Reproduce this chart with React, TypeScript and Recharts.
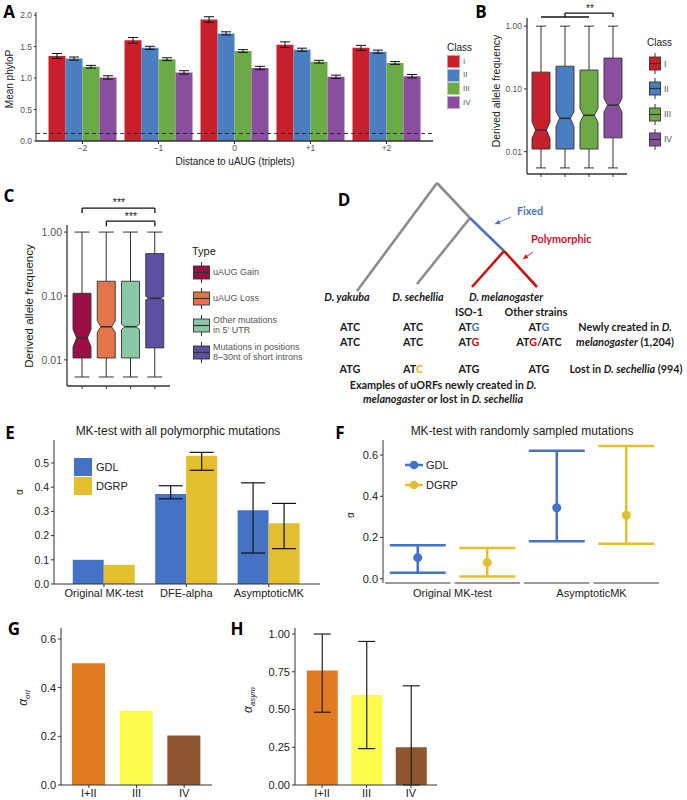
import React from "react"
import {
  Bar,
  BarChart,
  Cell,
  ErrorBar,
  Line,
  LineChart,
  ReferenceLine,
  Scatter,
  ScatterChart,
  XAxis,
  YAxis,
} from "recharts"

const AX = "#333333"
const TXT = "#555555"
const SANS = "'Liberation Sans', Arial, sans-serif"
const CAL = "Lato, 'Open Sans', sans-serif"

// ---------- panel A : mean phyloP around uAUG
const distances = ["\u22122", "\u22121", "0", "+1", "+2"]
const classes = ["I", "II", "III", "IV"]
const classColors = ["#C8202A", "#4B7EC0", "#6BAA47", "#8A4E9F"]
const phyloI = [1.35, 1.6, 1.93, 1.53, 1.48]
const phyloII = [1.31, 1.48, 1.71, 1.45, 1.42]
const phyloIII = [1.18, 1.3, 1.43, 1.26, 1.24]
const phyloIV = [1.01, 1.09, 1.16, 1.02, 1.03]
const seI = [0.04, 0.045, 0.045, 0.045, 0.04]
const seII = [0.025, 0.025, 0.025, 0.025, 0.025]
const seIII = [0.022, 0.022, 0.022, 0.022, 0.022]
const seIV = [0.027, 0.027, 0.027, 0.027, 0.027]
const neutralPhyloP = 0.12

// ---------- panel B : DAF by class
const bLo = [0.0055, 0.0055, 0.0055, 0.0055]
const bQ1 = [0.011, 0.011, 0.011, 0.0166]
const bMed = [0.022, 0.034, 0.038, 0.055]
const bQ3 = [0.185, 0.23, 0.2, 0.31]
const bHi = [1, 1, 1, 1]
const bNotchLo = [0.0163, 0.025, 0.029, 0.043]
const bNotchHi = [0.0297, 0.044, 0.049, 0.071]

// ---------- panel C : DAF by mutation type
const types = [
  "uAUG Gain",
  "uAUG Loss",
  "Other mutations in 5' UTR",
  "Mutations in positions 8\u201330nt of short introns",
]
const typeColors = ["#9A0F45", "#E3744C", "#8AC8A5", "#5E4FA2"]
const cLo = [0.0054, 0.0054, 0.0054, 0.0054]
const cQ1 = [0.0107, 0.0107, 0.0107, 0.0154]
const cMed = [0.022, 0.033, 0.033, 0.092]
const cQ3 = [0.11, 0.17, 0.17, 0.46]
const cHi = [1, 1, 1, 1]
const cNotchLo = [0.016, 0.027, 0.03, 0.087]
const cNotchHi = [0.03, 0.041, 0.036, 0.098]

// ---------- panel D : tree
const treeNodes: Record<string, { x: number; y: number }> = {
  root: { x: 97, y: 8 },
  yak: { x: 17, y: 116 },
  anc: { x: 130, y: 43 },
  sech: { x: 77, y: 109 },
  mel: { x: 164, y: 76 },
  iso: { x: 132, y: 112 },
  oth: { x: 197, y: 112 },
  fixFrom: { x: 171, y: 42 },
  fixTo: { x: 155, y: 49 },
  polyFrom: { x: 193, y: 77 },
  polyTo: { x: 183, y: 84 },
}
const treeEdges: [string, string, string][] = [
  ["root", "yak", "#8C8C8C"],
  ["root", "anc", "#8C8C8C"],
  ["anc", "sech", "#8C8C8C"],
  ["anc", "mel", "#4E74BE"],
  ["mel", "iso", "#C81414"],
  ["mel", "oth", "#C81414"],
]

// ---------- panel E : MK tests, all polymorphisms
const mkTests = ["Original MK-test", "DFE-alpha", "AsymptoticMK"]
const eGDL = [0.1, 0.372, 0.305]
const eGDLlo = [null, 0.352, 0.128]
const eGDLhi = [null, 0.406, 0.418]
const eDGRP = [0.079, 0.53, 0.251]
const eDGRPlo = [null, 0.47, 0.146]
const eDGRPhi = [null, 0.544, 0.333]
const GDL_C = "#4472C4"
const DGRP_C = "#E3BE2E"

// ---------- panel F : MK tests, random samples
const fTests = ["Original MK-test", "AsymptoticMK"]
const fGDL = [0.102, 0.344]
const fGDLlo = [0.029, 0.182]
const fGDLhi = [0.162, 0.621]
const fDGRP = [0.078, 0.308]
const fDGRPlo = [0.011, 0.169]
const fDGRPhi = [0.149, 0.644]

// ---------- panels G, H
const groups = ["I+II", "III", "IV"]
const groupColors = ["#E07B21", "#FCFC4C", "#8E5530"]
const alphaOri = [0.5, 0.305, 0.203]
const alphaAsym = [0.758, 0.597, 0.25]
const asymLo = [0.482, 0.241, 0]
const asymHi = [1.0, 0.951, 0.657]

type TP = {
  x: number
  y: number
  children: React.ReactNode
  size?: number
  color?: string
  bold?: boolean
  italic?: boolean
  align?: "start" | "middle" | "end"
  rotate?: boolean
  family?: string
}
function T({ x, y, children, size = 10, color = "#1a1a1a", bold, italic, align = "middle", rotate, family = SANS }: TP) {
  const tx = align === "start" ? "0" : align === "end" ? "-100%" : "-50%"
  return (
    <div
      style={{
        position: "absolute",
        left: x,
        top: y,
        transform: `translate(${tx},-50%)${rotate ? " rotate(-90deg)" : ""}`,
        fontSize: size,
        color,
        fontWeight: bold ? 700 : 400,
        fontStyle: italic ? "italic" : "normal",
        fontFamily: family,
        whiteSpace: "nowrap",
        lineHeight: 1.12,
      }}
    >
      {children}
    </div>
  )
}

function Pos({ x, y, children }: { x: number; y: number; children: React.ReactNode }) {
  return <div style={{ position: "absolute", left: x, top: y }}>{children}</div>
}

const Letter = ({ x, y, c }: { x: number; y: number; c: string }) => (
  <T x={x} y={y} size={17} bold family="'Open Sans', sans-serif" color="#000">
    {c}
  </T>
)

// notched box drawn from the range bar [lo, hi] on a log axis
function boxShape(capW: number) {
  return (props: any) => {
    const { x, y, width, height, payload, fill } = props
    const top = Math.min(y, y + height)
    const bot = Math.max(y, y + height)
    const l0 = Math.log10(payload.lo)
    const l1 = Math.log10(payload.hi)
    const py = (v: number) => bot - ((Math.log10(v) - l0) / (l1 - l0)) * (bot - top)
    const cx = x + width / 2
    const x0 = x
    const x1 = x + width
    const ins = width * 0.2
    const yq1 = py(payload.q1)
    const yq3 = py(payload.q3)
    const ym = py(payload.med)
    const ynl = py(payload.nlo)
    const ynh = py(payload.nhi)
    const pts = [
      [x0, yq3], [x1, yq3], [x1, ynh], [x1 - ins, ym], [x1, ynl],
      [x1, yq1], [x0, yq1], [x0, ynl], [x0 + ins, ym], [x0, ynh],
    ]
    return (
      <g>
        <line x1={cx} x2={cx} y1={top} y2={yq3} stroke={AX} strokeWidth={1} />
        <line x1={cx} x2={cx} y1={yq1} y2={bot} stroke={AX} strokeWidth={1} />
        <line x1={cx - capW / 2} x2={cx + capW / 2} y1={top} y2={top} stroke={AX} strokeWidth={1} />
        <line x1={cx - capW / 2} x2={cx + capW / 2} y1={bot} y2={bot} stroke={AX} strokeWidth={1} />
        <polygon points={pts.map((p) => p.join(",")).join(" ")} fill={fill} stroke={AX} strokeWidth={0.9} />
        <line x1={x0 + ins} x2={x1 - ins} y1={ym} y2={ym} stroke={AX} strokeWidth={1.6} />
      </g>
    )
  }
}

function BoxKey({ color, w, h }: { color: string; w: number; h: number }) {
  return (
    <svg width={w} height={h + 8} style={{ display: "block" }}>
      <line x1={w / 2} x2={w / 2} y1={0} y2={h + 8} stroke={AX} />
      <rect x={0.5} y={4} width={w - 1} height={h} fill={color} stroke={AX} strokeWidth={0.9} />
      <line x1={0.5} x2={w - 0.5} y1={4 + h / 2} y2={4 + h / 2} stroke={AX} strokeWidth={1.2} />
    </svg>
  )
}

function PanelA() {
  const rows = distances.map((d, i) => ({
    d,
    I: phyloI[i],
    II: phyloII[i],
    III: phyloIII[i],
    IV: phyloIV[i],
    eI: seI[i],
    eII: seII[i],
    eIII: seIII[i],
    eIV: seIV[i],
  }))
  return (
    <>
      <Pos x={0} y={0}>
        <BarChart
          width={436}
          height={157}
          data={rows}
          margin={{ top: 12, right: 3, bottom: 0, left: 0 }}
          barGap={0}
          barSize={17}
        >
          <XAxis
            dataKey="d"
            padding={{ left: 8.5, right: 8.5 }}
            height={16}
            tickSize={3}
            tickMargin={1}
            axisLine={{ stroke: AX, strokeWidth: 1.6 }}
            tickLine={{ stroke: AX }}
            tick={{ fontSize: 8.5, fill: TXT, fontFamily: SANS }}
          />
          <YAxis
            domain={[0, 2.05]}
            ticks={[0, 0.5, 1, 1.5, 2]}
            tickFormatter={(v: number) => v.toFixed(1)}
            width={36}
            tickSize={2}
            tickMargin={2}
            axisLine={{ stroke: AX }}
            tickLine={{ stroke: AX }}
            tick={{ fontSize: 8.5, fill: TXT, fontFamily: SANS }}
          />
          {classes.map((c, k) => (
            <Bar key={c} dataKey={c} fill={classColors[k]} isAnimationActive={false}>
              <ErrorBar dataKey={"e" + c} width={5} stroke="#111" strokeWidth={1} />
            </Bar>
          ))}
          <ReferenceLine y={neutralPhyloP} stroke="#222" strokeDasharray="4 3" strokeWidth={0.9} />
        </BarChart>
      </Pos>
      <T x={235} y={162} size={10}>Distance to uAUG (triplets)</T>
      <T x={10} y={79} size={10} rotate>Mean phyloP</T>
      <T x={447} y={48} size={10} align="start">Class</T>
      {classes.map((c, k) => (
        <React.Fragment key={c}>
          <div
            style={{
              position: "absolute",
              left: 447,
              top: 55 + k * 13.7,
              width: 13,
              height: 13,
              background: classColors[k],
              boxShadow: "inset 0 0 0 1px rgba(255,255,255,0.5)",
            }}
          />
          <T x={463} y={61.5 + k * 13.7} size={8} color={TXT} align="start">{c}</T>
        </React.Fragment>
      ))}
      <Letter x={9} y={12} c="A" />
    </>
  )
}

function PanelB() {
  const rows = classes.map((c, i) => ({
    cls: c,
    lo: bLo[i],
    q1: bQ1[i],
    med: bMed[i],
    q3: bQ3[i],
    hi: bHi[i],
    nlo: bNotchLo[i],
    nhi: bNotchHi[i],
  }))
  const lowBr = 1.4
  const upBr = 1.62
  return (
    <>
      <Pos x={495} y={0}>
        <BarChart width={135} height={182} data={rows} margin={{ top: 18, right: 3, bottom: 0, left: 0 }} barSize={18}>
          <XAxis
            dataKey="cls"
            padding={{ left: 2, right: 2 }}
            height={8}
            tickSize={3}
            tickFormatter={() => ""}
            axisLine={{ stroke: AX, strokeWidth: 1.3 }}
            tickLine={{ stroke: AX }}
          />
          <YAxis
            scale="log"
            type="number"
            domain={[0.0044, 1.35]}
            allowDataOverflow
            ticks={[0.01, 0.1, 1]}
            tickFormatter={(v: number) => v.toFixed(2)}
            width={32}
            tickSize={3}
            tickMargin={2}
            axisLine={{ stroke: AX, strokeWidth: 1.3 }}
            tickLine={{ stroke: AX }}
            tick={{ fontSize: 8.5, fill: TXT, fontFamily: SANS }}
          />
          <Bar dataKey={(d: any) => [d.lo, d.hi]} shape={boxShape(10)} isAnimationActive={false}>
            {rows.map((r, i) => (
              <Cell key={r.cls} fill={classColors[i]} />
            ))}
          </Bar>
          <ReferenceLine ifOverflow="visible" stroke="#111" strokeWidth={1.3} segment={[{ x: "I", y: lowBr }, { x: "III", y: lowBr }]} />
          <ReferenceLine ifOverflow="visible" stroke="#111" strokeWidth={1.3} segment={[{ x: "II", y: lowBr }, { x: "II", y: upBr }]} />
          <ReferenceLine ifOverflow="visible" stroke="#111" strokeWidth={1.3} segment={[{ x: "II", y: upBr }, { x: "IV", y: upBr }]} />
          <ReferenceLine ifOverflow="visible" stroke="#111" strokeWidth={1.3} segment={[{ x: "IV", y: upBr }, { x: "IV", y: lowBr }]} />
        </BarChart>
      </Pos>
      <T x={590} y={9} size={10} color="#222">**</T>
      <T x={497} y={91} size={10.5} rotate>Derived allele frequency</T>
      <T x={647} y={43} size={10} align="start">Class</T>
      {classes.map((c, k) => (
        <React.Fragment key={c}>
          <Pos x={649} y={53 + k * 25.3}>
            <BoxKey color={classColors[k]} w={12} h={13} />
          </Pos>
          <T x={664} y={64.5 + k * 25.3} size={8.5} color={TXT} align="start">{c}</T>
        </React.Fragment>
      ))}
      <Letter x={481} y={12} c="B" />
    </>
  )
}

function PanelC() {
  const rows = types.map((t, i) => ({
    type: t,
    lo: cLo[i],
    q1: cQ1[i],
    med: cMed[i],
    q3: cQ3[i],
    hi: cHi[i],
    nlo: cNotchLo[i],
    nhi: cNotchHi[i],
  }))
  const seg = (a: number, ya: number, b: number, yb: number) => [
    { x: types[a], y: ya },
    { x: types[b], y: yb },
  ]
  const br = { stroke: "#111", strokeWidth: 1.3, ifOverflow: "visible" as const }
  const legendLabels: React.ReactNode[] = [
    "uAUG Gain",
    "uAUG Loss",
    <>Other mutations<br />in 5' UTR</>,
    <>Mutations in positions<br />8{"\u2013"}30nt of short introns</>,
  ]
  return (
    <>
      <Pos x={20} y={195}>
        <BarChart width={150} height={199} data={rows} margin={{ top: 30, right: 0, bottom: 0, left: 0 }} barSize={18}>
          <XAxis
            dataKey="type"
            padding={{ left: 3, right: 3 }}
            height={8}
            tickSize={3}
            tickFormatter={() => ""}
            axisLine={{ stroke: AX, strokeWidth: 1.3 }}
            tickLine={{ stroke: AX }}
          />
          <YAxis
            scale="log"
            type="number"
            domain={[0.0039, 1.29]}
            allowDataOverflow
            ticks={[0.01, 0.1, 1]}
            tickFormatter={(v: number) => v.toFixed(2)}
            width={47}
            tickSize={3}
            tickMargin={2}
            axisLine={{ stroke: AX, strokeWidth: 1.3 }}
            tickLine={{ stroke: AX }}
            tick={{ fontSize: 10.5, fill: TXT, fontFamily: SANS }}
          />
          <Bar dataKey={(d: any) => [d.lo, d.hi]} shape={boxShape(15)} isAnimationActive={false}>
            {rows.map((r, i) => (
              <Cell key={r.type} fill={typeColors[i]} />
            ))}
          </Bar>
          <ReferenceLine {...br} segment={seg(0, 1.98, 0, 2.37)} />
          <ReferenceLine {...br} segment={seg(0, 2.37, 3, 2.37)} />
          <ReferenceLine {...br} segment={seg(3, 2.37, 3, 1.98)} />
          <ReferenceLine {...br} segment={seg(1, 1.23, 1, 1.48)} />
          <ReferenceLine {...br} segment={seg(1, 1.48, 3, 1.48)} />
          <ReferenceLine {...br} segment={seg(3, 1.48, 3, 1.23)} />
        </BarChart>
      </Pos>
      <T x={119} y={203} size={10.5} color="#222">***</T>
      <T x={131} y={217} size={10.5} color="#222">***</T>
      <T x={29} y={306} size={11.5} rotate>Derived allele frequency</T>
      <T x={192} y={251} size={11} align="start">Type</T>
      {typeColors.map((col, k) => (
        <React.Fragment key={col}>
          <Pos x={193} y={[262, 288, 315, 342][k]}>
            <BoxKey color={col} w={17} h={13} />
          </Pos>
          <T x={213} y={[272, 298, 325, 352][k]} size={9} color={TXT} align="start">
            {legendLabels[k]}
          </T>
        </React.Fragment>
      ))}
      <Letter x={9} y={196} c="C" />
    </>
  )
}

function arrowHead(from: { x: number; y: number }, to: { x: number; y: number }, color: string) {
  return (p: any) => {
    if (p.index !== 1) return <g key={"n" + p.index} />
    const dx = to.x - from.x
    const dy = to.y - from.y
    const len = Math.hypot(dx, dy)
    const ux = dx / len
    const uy = dy / len
    const bx = p.cx - ux * 5
    const by = p.cy - uy * 5
    const pts = `${p.cx},${p.cy} ${bx - uy * 2.4},${by + ux * 2.4} ${bx + uy * 2.4},${by - ux * 2.4}`
    return <polygon key="ah" points={pts} fill={color} />
  }
}

function PanelD() {
  const arrows: [string, string, string][] = [
    ["fixFrom", "fixTo", "#4E74BE"],
    ["polyFrom", "polyTo", "#C81414"],
  ]
  const blue = "#4472C4"
  const red = "#E00000"
  const yel = "#E8B400"
  const f = { family: CAL, bold: true, size: 10.8 }
  return (
    <>
      <Pos x={340} y={175}>
        <LineChart width={220} height={130} margin={{ top: 0, right: 0, bottom: 0, left: 0 }}>
          <XAxis type="number" dataKey="x" domain={[0, 220]} hide allowDataOverflow />
          <YAxis type="number" dataKey="y" domain={[0, 130]} reversed hide allowDataOverflow />
          {treeEdges.map(([a, b, col]) => (
            <Line
              key={a + b}
              data={[treeNodes[a], treeNodes[b]]}
              dataKey="y"
              stroke={col}
              strokeWidth={2.6}
              dot={false}
              isAnimationActive={false}
              type="linear"
            />
          ))}
          {arrows.map(([a, b, col]) => (
            <Line
              key={a}
              data={[treeNodes[a], treeNodes[b]]}
              dataKey="y"
              stroke={col}
              strokeWidth={0.9}
              dot={arrowHead(treeNodes[a], treeNodes[b], col)}
              isAnimationActive={false}
              type="linear"
            />
          ))}
        </LineChart>
      </Pos>
      <T x={517} y={211} {...f} color="#4A72C0" align="start">Fixed</T>
      <T x={531} y={239} {...f} color="#C8102E" align="start">Polymorphic</T>
      <T x={347} y={297} {...f} italic>D. yakuba</T>
      <T x={418} y={297} {...f} italic>D. sechellia</T>
      <T x={506} y={297} {...f} italic>D. melanogaster</T>
      <T x={469} y={312} {...f}>ISO-1</T>
      <T x={536} y={312} {...f}>Other strains</T>
      <T x={350} y={327} {...f}>ATC</T>
      <T x={413} y={327} {...f}>ATC</T>
      <T x={469} y={327} {...f}>AT<span style={{ color: blue }}>G</span></T>
      <T x={539} y={327} {...f}>AT<span style={{ color: blue }}>G</span></T>
      <T x={625} y={327} {...f}>Newly created in <i>D.</i></T>
      <T x={350} y={342} {...f}>ATC</T>
      <T x={413} y={342} {...f}>ATC</T>
      <T x={469} y={342} {...f}>AT<span style={{ color: red }}>G</span></T>
      <T x={539} y={342} {...f}>AT<span style={{ color: red }}>G</span>/ATC</T>
      <T x={625} y={342} {...f}><i>melanogaster</i> (1,204)</T>
      <T x={350} y={369} {...f}>ATG</T>
      <T x={413} y={369} {...f}>AT<span style={{ color: yel }}>C</span></T>
      <T x={469} y={369} {...f}>ATG</T>
      <T x={539} y={369} {...f}>ATG</T>
      <T x={626} y={369} {...f}>Lost in <i>D. sechellia</i> (994)</T>
      <T x={443} y={385} {...f}>Examples of uORFs newly created in <i>D.</i></T>
      <T x={443} y={399} {...f}><i>melanogaster</i> or lost in <i>D. sechellia</i></T>
      <Letter x={344} y={200} c="D" />
    </>
  )
}

function PanelE() {
  const rows = mkTests.map((t, i) => ({
    t,
    GDL: eGDL[i],
    DGRP: eDGRP[i],
    eG: eGDLlo[i] == null ? null : [eGDL[i] - (eGDLlo[i] as number), (eGDLhi[i] as number) - eGDL[i]],
    eD: eDGRPlo[i] == null ? null : [eDGRP[i] - (eDGRPlo[i] as number), (eDGRPhi[i] as number) - eDGRP[i]],
  }))
  return (
    <>
      <Pos x={20} y={430}>
        <BarChart width={305} height={174} data={rows} margin={{ top: 10, right: 5, bottom: 0, left: 0 }} barSize={31} barGap={0}>
          <XAxis
            dataKey="t"
            padding={{ left: 8.75, right: 10 }}
            height={20}
            tickSize={3}
            tickMargin={2}
            axisLine={{ stroke: AX }}
            tickLine={{ stroke: AX }}
            tick={{ fontSize: 11, fill: "#222", fontFamily: SANS }}
          />
          <YAxis
            domain={[0, 0.595]}
            allowDataOverflow
            ticks={[0, 0.1, 0.2, 0.3, 0.4, 0.5]}
            tickFormatter={(v: number) => v.toFixed(1)}
            width={34}
            tickSize={3}
            tickMargin={2}
            axisLine={{ stroke: AX }}
            tickLine={{ stroke: AX }}
            tick={{ fontSize: 10.5, fill: "#222", fontFamily: SANS }}
          />
          <Bar dataKey="GDL" fill={GDL_C} isAnimationActive={false}>
            <ErrorBar dataKey="eG" width={12} stroke="#111" strokeWidth={1.2} />
          </Bar>
          <Bar dataKey="DGRP" fill={DGRP_C} isAnimationActive={false}>
            <ErrorBar dataKey="eD" width={12} stroke="#111" strokeWidth={1.2} />
          </Bar>
        </BarChart>
      </Pos>
      <T x={178} y={432} size={12}>MK-test with all polymorphic mutations</T>
      <T x={20} y={492} size={10} rotate>{"\u03b1"}</T>
      {[["GDL", GDL_C], ["DGRP", DGRP_C]].map(([n, c], k) => (
        <React.Fragment key={n}>
          <div style={{ position: "absolute", left: 74, top: 458 + k * 18.5, width: 18, height: 18, background: c }} />
          <T x={96} y={467 + k * 18.5} size={11} align="start" color="#222">{n}</T>
        </React.Fragment>
      ))}
      <Letter x={10} y={433} c="E" />
    </>
  )
}

function PanelF() {
  const mk = (v: number[], lo: number[], hi: number[], s: number) =>
    fTests.map((t, i) => ({ x: i * 2 + s + 0.5, y: v[i], err: [v[i] - lo[i], hi[i] - v[i]] }))
  const gdl = mk(fGDL, fGDLlo, fGDLhi, 0)
  const dgrp = mk(fDGRP, fDGRPlo, fDGRPhi, 1)
  const yMin = -0.021
  const slots = [0, 1, 2, 3]
  return (
    <>
      <Pos x={345} y={430}>
        <ScatterChart width={320} height={173} margin={{ top: 10, right: 4, bottom: 0, left: 0 }}>
          <XAxis
            type="number"
            dataKey="x"
            domain={[0, 4]}
            ticks={[1, 3]}
            tickFormatter={(v: number) => fTests[(v - 1) / 2]}
            height={20}
            tickSize={4}
            tickMargin={2}
            axisLine={false}
            tickLine={false}
            tick={{ fontSize: 11, fill: "#222", fontFamily: SANS }}
          />
          <YAxis
            type="number"
            dataKey="y"
            domain={[yMin, 0.673]}
            allowDataOverflow
            ticks={[0, 0.2, 0.4, 0.6]}
            tickFormatter={(v: number) => v.toFixed(1)}
            width={38}
            tickSize={3}
            tickMargin={2}
            axisLine={{ stroke: AX }}
            tickLine={{ stroke: AX }}
            tick={{ fontSize: 11, fill: "#222", fontFamily: SANS }}
          />
          {slots.map((s) => (
            <ReferenceLine
              key={s}
              stroke={AX}
              strokeWidth={1}
              segment={[{ x: s + 0.03, y: yMin }, { x: s + 0.97, y: yMin }]}
            />
          ))}
          <Scatter
            data={gdl}
            fill={GDL_C}
            isAnimationActive={false}
            shape={(p: any) => <circle cx={p.cx} cy={p.cy} r={4.5} fill={GDL_C} />}
          >
            <ErrorBar dataKey="err" direction="y" width={28} stroke={GDL_C} strokeWidth={2.5} />
          </Scatter>
          <Scatter
            data={dgrp}
            fill={DGRP_C}
            isAnimationActive={false}
            shape={(p: any) => <circle cx={p.cx} cy={p.cy} r={4.5} fill={DGRP_C} />}
          >
            <ErrorBar dataKey="err" direction="y" width={28} stroke={DGRP_C} strokeWidth={2.5} />
          </Scatter>
        </ScatterChart>
      </Pos>
      <T x={522} y={432} size={12}>MK-test with randomly sampled mutations</T>
      <T x={351} y={515} size={10} rotate>{"\u03b1"}</T>
      {[["GDL", GDL_C], ["DGRP", DGRP_C]].map(([n, c], k) => (
        <React.Fragment key={n}>
          <svg style={{ position: "absolute", left: 405, top: 459 + k * 19.5 }} width={18} height={12}>
            <line x1={0} x2={18} y1={6} y2={6} stroke={c} strokeWidth={2.5} />
            <circle cx={9} cy={6} r={4.3} fill={c} />
          </svg>
          <T x={426} y={465 + k * 19.5} size={11} align="start" color="#222">{n}</T>
        </React.Fragment>
      ))}
      <Letter x={340} y={433} c="F" />
    </>
  )
}

function PanelG() {
  const rows = groups.map((g, i) => ({ g, v: alphaOri[i] }))
  return (
    <>
      <Pos x={20} y={618}>
        <BarChart width={192} height={185} data={rows} margin={{ top: 10, right: 0, bottom: 0, left: 0 }} barSize={33}>
          <XAxis
            dataKey="g"
            padding={{ left: 4, right: 4 }}
            height={18}
            tickSize={3}
            tickMargin={1}
            axisLine={{ stroke: AX }}
            tickLine={{ stroke: AX }}
            tick={{ fontSize: 11, fill: "#222", fontFamily: SANS }}
          />
          <YAxis
            domain={[0, 0.645]}
            allowDataOverflow
            ticks={[0, 0.2, 0.4, 0.6]}
            tickFormatter={(v: number) => v.toFixed(1)}
            width={41}
            tickSize={3}
            tickMargin={2}
            axisLine={{ stroke: AX }}
            tickLine={{ stroke: AX }}
            tick={{ fontSize: 11, fill: "#222", fontFamily: SANS }}
          />
          <Bar dataKey="v" isAnimationActive={false}>
            {rows.map((r, i) => (
              <Cell key={r.g} fill={groupColors[i]} />
            ))}
          </Bar>
        </BarChart>
      </Pos>
      <T x={25} y={698} size={12} rotate>
        <i>{"\u03b1"}</i>
        <sub style={{ fontSize: 8, fontStyle: "italic" }}>ori</sub>
      </T>
      <Letter x={14} y={629} c="G" />
    </>
  )
}

function PanelH() {
  const rows = groups.map((g, i) => ({ g, v: alphaAsym[i], e: [alphaAsym[i] - asymLo[i], asymHi[i] - alphaAsym[i]] }))
  return (
    <>
      <Pos x={250} y={618}>
        <BarChart width={187} height={185} data={rows} margin={{ top: 10, right: 0, bottom: 0, left: 0 }} barSize={31}>
          <XAxis
            dataKey="g"
            padding={{ left: 4.75, right: 3.75 }}
            height={18}
            tickSize={3}
            tickMargin={1}
            axisLine={{ stroke: AX }}
            tickLine={{ stroke: AX }}
            tick={{ fontSize: 11, fill: "#222", fontFamily: SANS }}
          />
          <YAxis
            domain={[0, 1.04]}
            allowDataOverflow
            ticks={[0, 0.25, 0.5, 0.75, 1]}
            tickFormatter={(v: number) => v.toFixed(2)}
            width={45}
            tickSize={3}
            tickMargin={2}
            axisLine={{ stroke: AX }}
            tickLine={{ stroke: AX }}
            tick={{ fontSize: 11, fill: "#222", fontFamily: SANS }}
          />
          <Bar dataKey="v" isAnimationActive={false}>
            {rows.map((r, i) => (
              <Cell key={r.g} fill={groupColors[i]} />
            ))}
            <ErrorBar dataKey="e" width={8.5} stroke="#222" strokeWidth={1.2} />
          </Bar>
        </BarChart>
      </Pos>
      <T x={250} y={700} size={12} rotate>
        <i>{"\u03b1"}</i>
        <sub style={{ fontSize: 8, fontStyle: "italic" }}>asym</sub>
      </T>
      <Letter x={237} y={629} c="H" />
    </>
  )
}

export default function App() {
  return (
    <div
      style={{
        position: "absolute",
        left: 0,
        top: 0,
        width: 687,
        height: 800,
        overflow: "hidden",
        background: "#fff",
        fontFamily: SANS,
      }}
    >
      <PanelA />
      <PanelB />
      <PanelC />
      <PanelD />
      <PanelE />
      <PanelF />
      <PanelG />
      <PanelH />
    </div>
  )
}
